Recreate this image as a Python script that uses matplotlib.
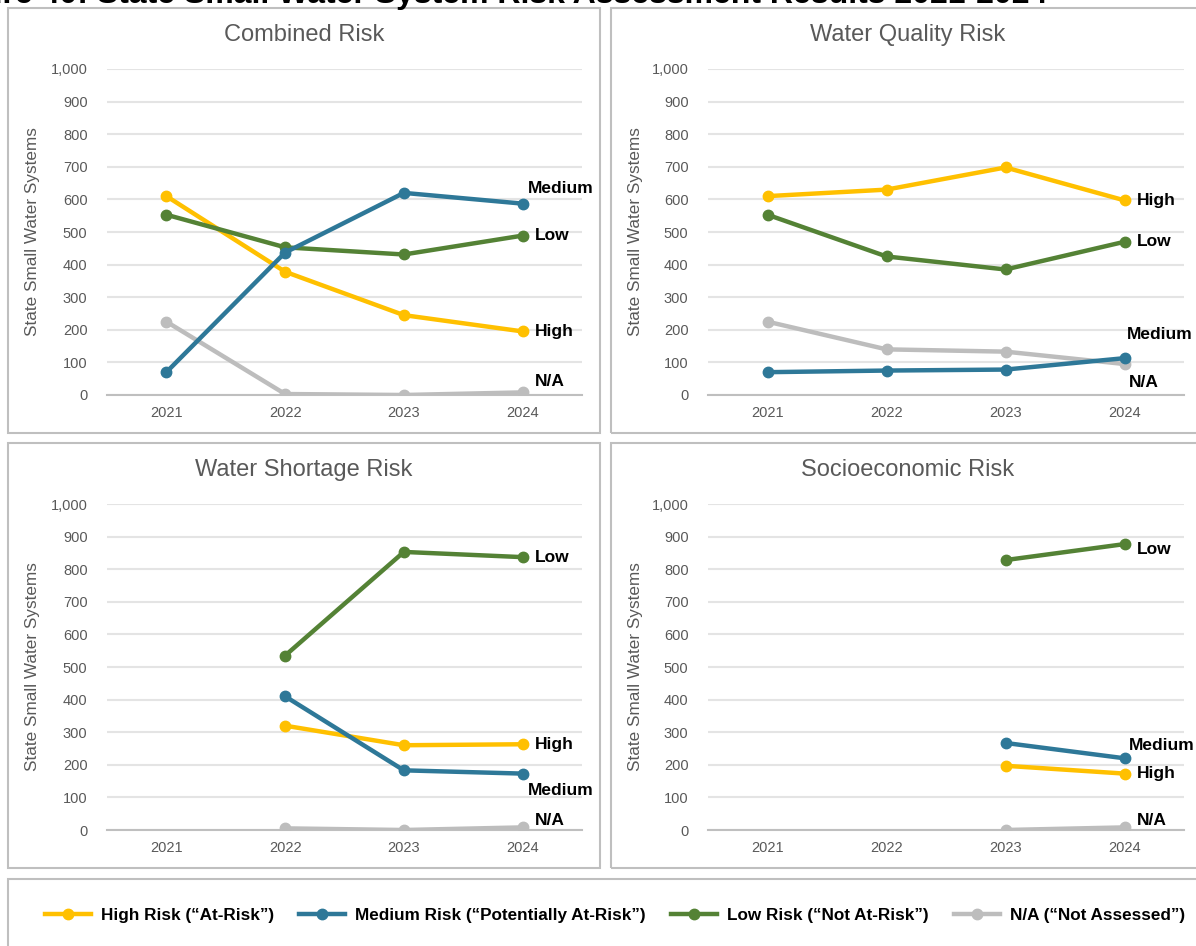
import matplotlib.pyplot as plt
import numpy as np
from matplotlib.patches import Rectangle
from matplotlib.lines import Line2D

plt.rcParams["font.family"] = ["Liberation Sans", "DejaVu Sans"]

nan = np.nan
YEARS = ["2021", "2022", "2023", "2024"]
SERIES = ["High", "Medium", "Low", "N/A"]
LEGEND_LABELS = ["High Risk (\u201cAt-Risk\u201d)", "Medium Risk (\u201cPotentially At-Risk\u201d)",
                 "Low Risk (\u201cNot At-Risk\u201d)", "N/A (\u201cNot Assessed\u201d)"]
COLORS = ["#FFC000", "#2E7898", "#548235", "#BDBDBD"]

TITLES = ["Combined Risk", "Water Quality Risk", "Water Shortage Risk", "Socioeconomic Risk"]

combined_high = [610, 378, 245, 195]
combined_medium = [70, 437, 620, 587]
combined_low = [553, 453, 431, 489]
combined_na = [225, 3, 0, 8]

quality_high = [610, 630, 698, 597]
quality_medium = [70, 75, 78, 113]
quality_low = [553, 425, 385, 470]
quality_na = [225, 140, 133, 95]

shortage_high = [nan, 320, 260, 263]
shortage_medium = [nan, 410, 183, 173]
shortage_low = [nan, 535, 853, 837]
shortage_na = [nan, 5, 0, 8]

socio_high = [nan, nan, 197, 173]
socio_medium = [nan, nan, 267, 220]
socio_low = [nan, nan, 828, 877]
socio_na = [nan, nan, 0, 8]

PANEL_DATA = [
    [combined_high, combined_medium, combined_low, combined_na],
    [quality_high, quality_medium, quality_low, quality_na],
    [shortage_high, shortage_medium, shortage_low, shortage_na],
    [socio_high, socio_medium, socio_low, socio_na],
]

# end-label offsets in points (dx, dy) per panel, per series
LABEL_OFFSETS = [
    [(9, 0), (4, 11), (9, 0), (9, 8)],
    [(9, 0), (2, 17), (9, 0), (3, -13)],
    [(9, 0), (4, -12), (9, 0), (9, 5)],
    [(9, 0), (3, 9), (9, -4), (9, 5)],
]

W, H = 1196, 946
fig = plt.figure(figsize=(W / 100, H / 100), dpi=100)


def px_box(x0, y0, x1, y1):
    return [x0 / W, 1 - y1 / H, (x1 - x0) / W, (y1 - y0) / H]


# panel frames (pixel corners)
FRAMES = [(8, 8, 600, 433), (611, 8, 1205, 433),
          (8, 443, 600, 868), (611, 443, 1205, 868)]
for (x0, y0, x1, y1) in FRAMES + [(8, 879, 1205, 960)]:
    fig.patches.append(Rectangle((x0 / W, 1 - y1 / H), (x1 - x0) / W, (y1 - y0) / H,
                                 transform=fig.transFigure, fill=False,
                                 edgecolor="#BFBFBF", linewidth=1.5))

AX_BOXES = [px_box(107, 69, 582, 395), px_box(708, 69, 1184, 395),
            px_box(107, 504, 582, 830), px_box(708, 504, 1184, 830)]
TITLE_Y = [35, 35, 470, 470]
YLABEL_X = [40, 643, 40, 643]

x = np.arange(len(YEARS))
for i, box in enumerate(AX_BOXES):
    ax = fig.add_axes(box)
    for j, vals in enumerate(PANEL_DATA[i]):
        ax.plot(x, vals, color=COLORS[j], linewidth=3.2, marker="o", markersize=7.5,
                solid_capstyle="round", zorder=3 + (j == 1))
        dx, dy = LABEL_OFFSETS[i][j]
        ax.annotate(SERIES[j], (x[-1], vals[-1]), xytext=(dx, dy), textcoords="offset points",
                    ha="left", va="center", fontsize=12.5, fontweight="bold", color="black",
                    annotation_clip=False)
    ax.set_xlim(-0.5, 3.5)
    ax.set_ylim(0, 1000)
    ax.set_yticks(range(0, 1001, 100))
    ax.set_yticklabels([f"{v:,}" for v in range(0, 1001, 100)])
    ax.set_xticks(x)
    ax.set_xticklabels(YEARS)
    ax.tick_params(length=0, labelsize=10.5, labelcolor="#595959", pad=8)
    ax.tick_params(axis="y", pad=14)
    ax.grid(axis="y", color="#E4E4E4", linewidth=1.5)
    ax.set_axisbelow(True)
    for s in ["top", "right", "left"]:
        ax.spines[s].set_visible(False)
    ax.spines["bottom"].set_color("#BFBFBF")
    ax.spines["bottom"].set_linewidth(1.5)
    ax.set_ylabel("State Small Water Systems", fontsize=12.3, color="#595959")
    ax.yaxis.set_label_coords((YLABEL_X[i] - box[0] * W) / (box[2] * W), 0.5)
    fx0, _, fx1, _ = FRAMES[i]
    fig.text((fx0 + fx1) / 2 / W, 1 - TITLE_Y[i] / H, TITLES[i], ha="center", va="center",
             fontsize=17, color="#595959")

# figure caption, cut off at the top edge as in the source
fig.text(1047 / W, 1 - 3 / H, "Figure 40: State Small Water System Risk Assessment Results 2021-2024",
         ha="right", va="baseline", fontsize=23, fontweight="bold", color="black")

handles = [Line2D([0], [0], color=c, linewidth=3.2, marker="o", markersize=7.5) for c in COLORS]
fig.legend(handles, LEGEND_LABELS, loc="center", bbox_to_anchor=(615 / W, 1 - 915 / H),
           ncol=4, frameon=False, handlelength=2.7, handletextpad=0.6, columnspacing=1.45,
           prop={"size": 12.3, "weight": "bold"})

fig.savefig("out.png", dpi=100)
